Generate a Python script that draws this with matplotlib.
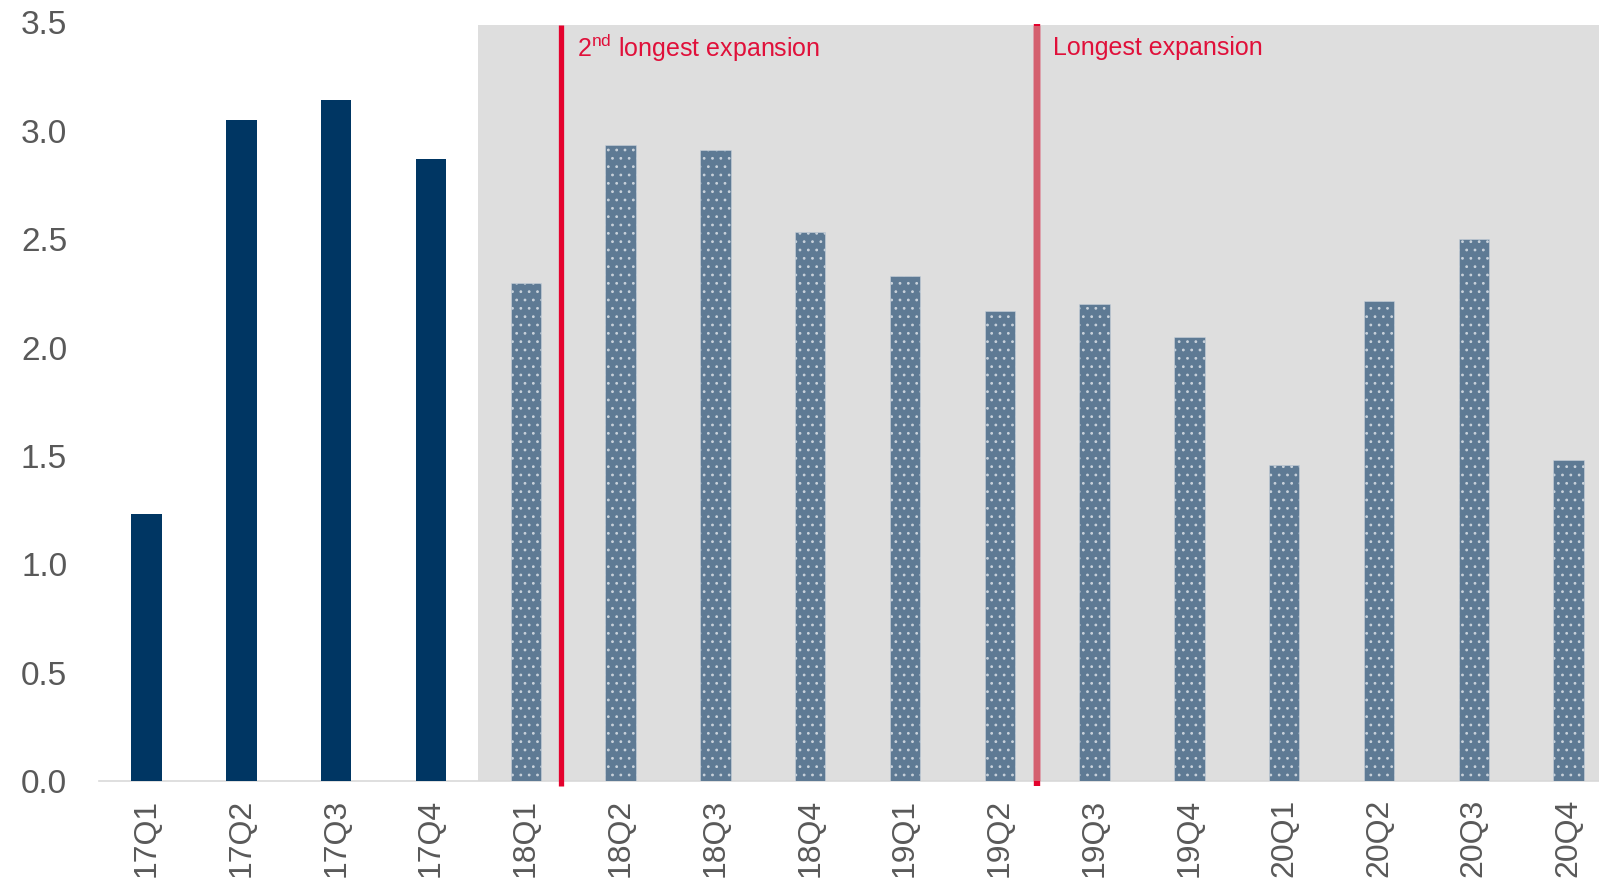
"""Quarterly bar chart with the two longest-expansion markers."""

import matplotlib
matplotlib.use("Agg")
import matplotlib.pyplot as plt
import numpy as np

QUARTERS = ["17Q1", "17Q2", "17Q3", "17Q4", "18Q1", "18Q2", "18Q3", "18Q4",
            "19Q1", "19Q2", "19Q3", "19Q4", "20Q1", "20Q2", "20Q3", "20Q4"]
VALUES = [1.23, 3.05, 3.14, 2.87, 2.30, 2.935, 2.91, 2.535,
          2.33, 2.17, 2.20, 2.05, 1.46, 2.215, 2.50, 1.48]
FIRST_SHADED = 4          # index of first quarter in the shaded period
SECOND_LONGEST_X = 4.37   # position of "2nd longest expansion" marker
LONGEST_X = 9.39          # position of "Longest expansion" marker

Y_TICKS = [0.0, 0.5, 1.0, 1.5, 2.0, 2.5, 3.0, 3.5]

NAVY = "#003663"
SLATE = "#5E7A94"
SHADE = "#DEDEDE"
RED = "#E4022D"
PINK = "#D4606F"
TEXT_RED = "#E0103A"
GREY_TXT = "#595959"


def main() -> None:
    plt.rcParams["font.family"] = ["Liberation Sans", "DejaVu Sans"]
    plt.rcParams["mathtext.fontset"] = "custom"
    plt.rcParams["mathtext.rm"] = "Liberation Sans"
    plt.rcParams["hatch.color"] = "#E8EDF2"
    plt.rcParams["hatch.linewidth"] = 0.8

    fig = plt.figure(figsize=(15.99, 8.90), dpi=100)
    ax = fig.add_axes([0.062, 0.1225, 0.938, 0.8523])

    x = np.arange(len(QUARTERS))
    xmax = 15.32
    ax.set_xlim(-0.5, xmax)
    ax.set_ylim(0, 3.5)

    # shaded forecast period
    ax.axvspan(FIRST_SHADED - 0.5, xmax, ymin=0, ymax=3.49 / 3.5,
               color=SHADE, lw=0, zorder=0)

    vals = np.array(VALUES)
    solid = x < FIRST_SHADED
    ax.bar(x[solid], vals[solid], width=0.32, color=NAVY, lw=0, zorder=2)
    ax.bar(x[~solid], vals[~solid], width=0.32, color=SLATE,
           edgecolor="#C9D2DB", lw=0.4, hatch="..", zorder=2)

    # expansion markers
    ax.plot([SECOND_LONGEST_X] * 2, [-0.025, 3.49], color=RED, lw=3.8,
            solid_capstyle="butt", clip_on=False, zorder=3)
    ax.plot([LONGEST_X] * 2, [-0.025, 3.495], color=RED, lw=4.6,
            solid_capstyle="butt", clip_on=False, zorder=3)
    ax.plot([LONGEST_X] * 2, [0.0, 3.485], color=PINK, lw=4.6,
            solid_capstyle="butt", clip_on=False, zorder=3)

    ax.text(SECOND_LONGEST_X + 0.17, 3.38, r"2$^{\rm nd}$ longest expansion",
            color=TEXT_RED, fontsize=18, va="center", ha="left")
    ax.text(LONGEST_X + 0.17, 3.38, "Longest expansion",
            color=TEXT_RED, fontsize=18, va="center", ha="left")

    ax.set_xticks(x)
    ax.set_xticklabels(QUARTERS, rotation=90, fontsize=23, color=GREY_TXT)
    ax.set_yticks(Y_TICKS)
    ax.set_yticklabels([f"{t:.1f}" for t in Y_TICKS], fontsize=24, color=GREY_TXT)
    ax.tick_params(axis="x", length=0, pad=13)
    ax.tick_params(axis="y", length=0, pad=23)

    for side in ("top", "right", "left"):
        ax.spines[side].set_visible(False)
    ax.spines["bottom"].set_color("#D9D9D9")
    ax.spines["bottom"].set_linewidth(1.2)
    ax.spines["bottom"].set_zorder(1)

    fig.savefig("out.png", dpi=100)
    plt.close(fig)


if __name__ == "__main__":
    main()
